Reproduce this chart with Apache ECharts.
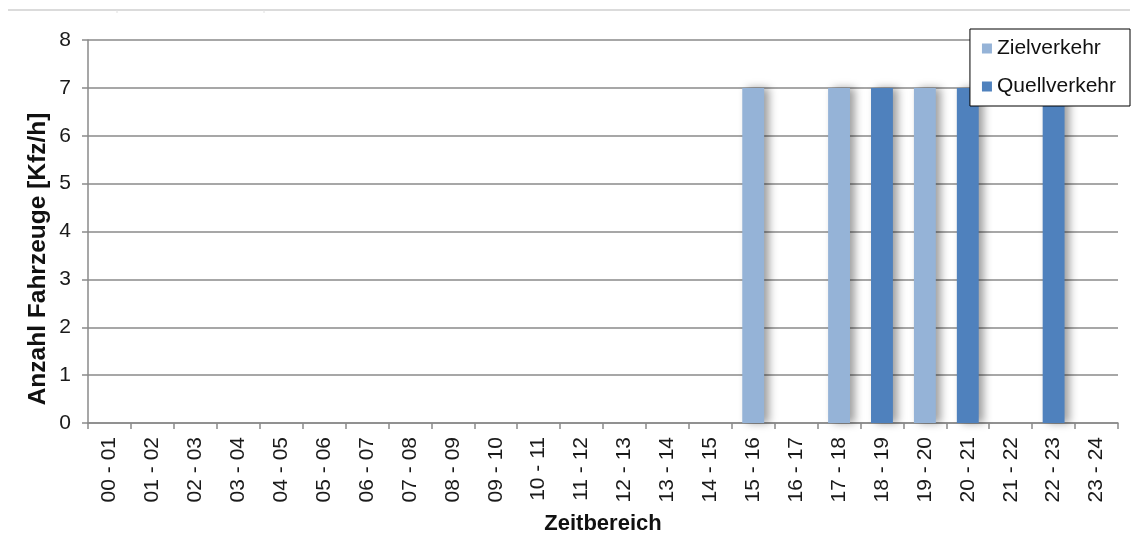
<!DOCTYPE html>
<html>
<head>
<meta charset="utf-8">
<script src="https://cdn.jsdelivr.net/npm/echarts@6/dist/echarts.min.js"></script>
<style>
  html, body { margin: 0; padding: 0; background: #fff; }
  #chart { width: 1136px; height: 540px; }
</style>
</head>
<body>
<div id="chart"></div>
<script>
// Hourly time ranges
const categories = [
  '00 - 01', '01 - 02', '02 - 03', '03 - 04', '04 - 05', '05 - 06',
  '06 - 07', '07 - 08', '08 - 09', '09 - 10', '10 - 11', '11 - 12',
  '12 - 13', '13 - 14', '14 - 15', '15 - 16', '16 - 17', '17 - 18',
  '18 - 19', '19 - 20', '20 - 21', '21 - 22', '22 - 23', '23 - 24'
];
// Vehicles per hour
const zielverkehr = [0, 0, 0, 0, 0, 0, 0, 0, 0, 0, 0, 0, 0, 0, 0, 7, 0, 7, 0, 7, 0, 0, 0, 0];
const quellverkehr = [0, 0, 0, 0, 0, 0, 0, 0, 0, 0, 0, 0, 0, 0, 0, 0, 0, 0, 7, 0, 7, 0, 7, 0];
const yTicks = { min: 0, max: 8, interval: 1 };
const yTitle = 'Anzahl Fahrzeuge [Kfz/h]';
const xTitle = 'Zeitbereich';

const FONT = '"Liberation Sans", Arial, sans-serif';
const AXIS_GREY = '#8a8a8a';
const chart = echarts.init(document.getElementById('chart'), null, { renderer: 'canvas' });

const barStyle = (color) => ({
  color: color,
  shadowColor: 'rgba(0,0,0,0.38)',
  shadowBlur: 9,
  shadowOffsetX: 5,
  shadowOffsetY: 0
});

chart.setOption({
  animation: false,
  backgroundColor: '#fff',
  textStyle: { fontFamily: FONT },
  graphic: [
    { type: 'line', shape: { x1: 8, y1: 10, x2: 1130, y2: 10 }, style: { stroke: '#cfcfcf', lineWidth: 1.5 } },
    { type: 'line', shape: { x1: 117, y1: 10, x2: 117, y2: 13 }, style: { stroke: '#e0e0e0', lineWidth: 1 } },
    { type: 'line', shape: { x1: 264, y1: 10, x2: 264, y2: 13 }, style: { stroke: '#e0e0e0', lineWidth: 1 } },
    {
      type: 'text',
      x: 38, y: 259,
      rotation: Math.PI / 2,
      style: {
        text: yTitle,
        font: 'bold 24.5px ' + FONT,
        fill: '#111',
        align: 'center',
        verticalAlign: 'middle'
      }
    }
  ],
  grid: { left: 88, right: 18, top: 40, bottom: 111, containLabel: false },
  legend: {
    orient: 'vertical',
    right: 6,
    top: 29,
    itemWidth: 10,
    itemHeight: 10,
    itemGap: 17,
    padding: [9, 14, 9, 12],
    backgroundColor: '#fff',
    borderColor: '#000',
    borderWidth: 1,
    textStyle: { fontSize: 21, color: '#111', fontFamily: FONT },
    data: [
      { name: 'Zielverkehr', icon: 'rect' },
      { name: 'Quellverkehr', icon: 'rect' }
    ],
    z: 10
  },
  xAxis: {
    type: 'category',
    data: categories,
    name: xTitle,
    nameLocation: 'middle',
    nameGap: 90,
    nameTextStyle: { fontSize: 22, fontWeight: 'bold', color: '#111', fontFamily: FONT },
    axisLine: { show: true, lineStyle: { color: AXIS_GREY, width: 1.5 } },
    axisTick: { show: true, length: 6, lineStyle: { color: AXIS_GREY, width: 1.5 } },
    axisLabel: { rotate: 90, fontSize: 21, color: '#1a1a1a', margin: 14, interval: 0, fontFamily: FONT },
    splitLine: { show: false }
  },
  yAxis: {
    type: 'value',
    min: yTicks.min,
    max: yTicks.max,
    interval: yTicks.interval,
    axisLine: { show: true, lineStyle: { color: AXIS_GREY, width: 1.5 } },
    axisTick: { show: true, inside: false, length: 6, lineStyle: { color: AXIS_GREY, width: 1.5 } },
    axisLabel: { fontSize: 21, color: '#1a1a1a', margin: 17, fontFamily: FONT },
    splitLine: { show: true, lineStyle: { color: AXIS_GREY, width: 1.5 } }
  },
  series: [
    {
      name: 'Zielverkehr',
      type: 'bar',
      data: zielverkehr,
      barWidth: '51%',
      barGap: '-100%',
      itemStyle: barStyle('#95B3D7')
    },
    {
      name: 'Quellverkehr',
      type: 'bar',
      data: quellverkehr,
      barWidth: '51%',
      barGap: '-100%',
      itemStyle: barStyle('#4F81BD')
    }
  ]
});
</script>
</body>
</html>
